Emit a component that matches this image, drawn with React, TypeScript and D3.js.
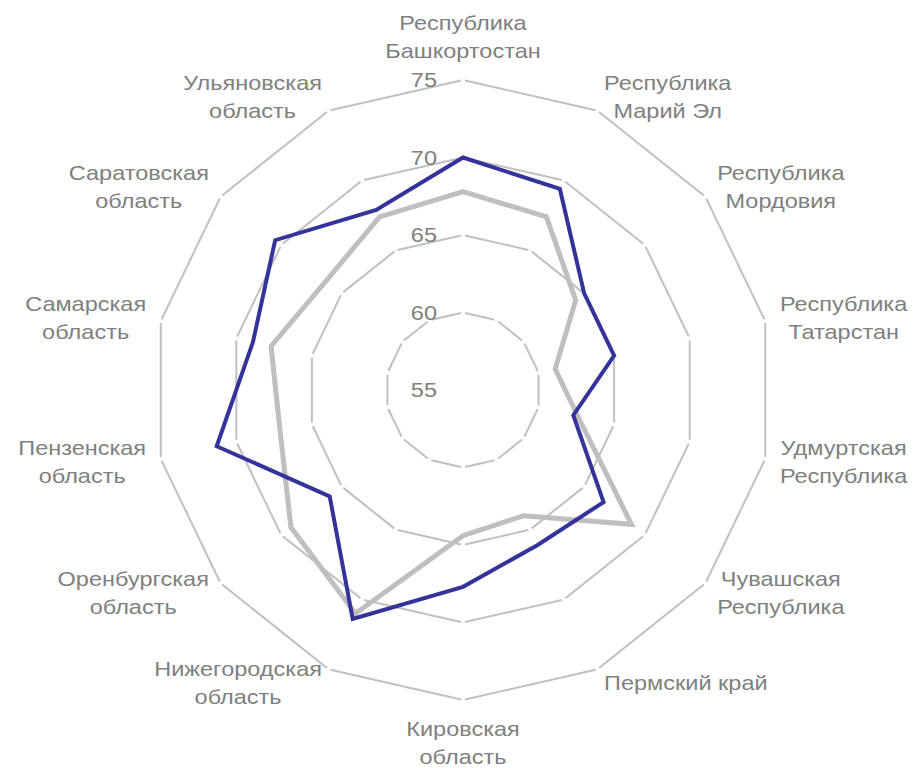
import { useMemo } from "react";
import * as d3 from "d3";

const categories = [
  "Республика\nБашкортостан",
  "Республика\nМарий Эл",
  "Республика\nМордовия",
  "Республика\nТатарстан",
  "Удмуртская\nРеспублика",
  "Чувашская\nРеспублика",
  "Пермский край",
  "Кировская\nобласть",
  "Нижегородская\nобласть",
  "Оренбургская\nобласть",
  "Пензенская\nобласть",
  "Самарская\nобласть",
  "Саратовская\nобласть",
  "Ульяновская\nобласть",
];

const seriesBlue = [70.0, 69.4, 65.0, 65.0, 62.3, 66.6, 66.1, 67.7, 71.4, 66.0, 71.3, 68.9, 70.5, 67.9];
const seriesGray = [67.8, 67.4, 64.3, 61.1, 62.6, 68.9, 64.0, 64.4, 71.0, 69.2, 67.1, 67.7, 66.3, 67.4];

const ticks = [55, 60, 65, 70, 75];

const W = 917;
const H = 768;
const cx = 463;
const cy = 390;
const radius = 310;
const labelR = 325;
const lineH = 28;
const fontSize = 21;
const stretch = 1.12;
const textColor = "#808080";
const gridColor = "#c0c0c0";

function measure(txt: string) {
  const ctx = document.createElement("canvas").getContext("2d");
  if (!ctx) return txt.length * 11;
  ctx.font = `${fontSize}px "Liberation Sans", Arial, sans-serif`;
  return ctx.measureText(txt).width * stretch;
}

export default function App() {
  const n = categories.length;
  const r = d3.scaleLinear().domain([55, 75]).range([0, radius]);
  const angle = (i: number) => (i * 2 * Math.PI) / n;
  const pt = (i: number, rr: number): [number, number] => [
    cx + rr * Math.sin(angle(i)),
    cy - rr * Math.cos(angle(i)),
  ];

  const line = d3
    .lineRadial<number>()
    .angle((_, i) => angle(i))
    .radius((d) => r(d))
    .curve(d3.curveLinearClosed);

  const labels = useMemo(
    () =>
      categories.map((c, i) => {
        const lines = c.split("\n");
        const w = d3.max(lines, measure) || 0;
        const h = lines.length * lineH;
        const s = Math.sin(angle(i));
        const co = Math.cos(angle(i));
        const [ax, ay] = pt(i, labelR);
        let x = ax;
        let y = ay;
        if (Math.abs(s) < 0.01) {
          y = co > 0 ? ay - h / 2 : ay + h / 2;
        } else {
          x = s > 0 ? ax + w / 2 : ax - w / 2;
        }
        return { lines, x, y };
      }),
    []
  );

  const gap = 2;

  return (
    <svg
      width={W}
      height={H}
      style={{ position: "absolute", left: 0, top: 0, background: "#fff" }}
      fontFamily='"Liberation Sans", Arial, sans-serif'
    >
      <g>
        {ticks.slice(1).map((t) => (
          <g key={t}>
            {d3.range(n).map((i) => {
              const [x1, y1] = pt(i, r(t));
              const [x2, y2] = pt((i + 1) % n, r(t));
              const len = Math.hypot(x2 - x1, y2 - y1);
              const ux = (x2 - x1) / len;
              const uy = (y2 - y1) / len;
              return (
                <line
                  key={i}
                  x1={x1 + ux * gap}
                  y1={y1 + uy * gap}
                  x2={x2 - ux * gap}
                  y2={y2 - uy * gap}
                  stroke={gridColor}
                  strokeWidth={2}
                />
              );
            })}
          </g>
        ))}
      </g>
      <g transform={`translate(${cx},${cy})`}>
        <path d={line(seriesGray) || ""} fill="none" stroke="#bfbfbf" strokeWidth={5} strokeLinejoin="miter" />
        <path d={line(seriesBlue) || ""} fill="none" stroke="#333399" strokeWidth={4} strokeLinejoin="miter" />
      </g>
      <g fill={textColor} fontSize={fontSize}>
        {ticks.map((t) => (
          <text
            key={t}
            transform={`translate(${cx - 26},${cy - r(t)}) scale(${stretch},1)`}
            textAnchor="end"
            dominantBaseline="central"
          >
            {t}
          </text>
        ))}
        {labels.map((l, i) => (
          <g key={i}>
            {l.lines.map((s, k) => (
              <text
                key={k}
                transform={`translate(${l.x},${l.y + (k - (l.lines.length - 1) / 2) * lineH}) scale(${stretch},1)`}
                textAnchor="middle"
                dominantBaseline="central"
              >
                {s}
              </text>
            ))}
          </g>
        ))}
      </g>
    </svg>
  );
}
